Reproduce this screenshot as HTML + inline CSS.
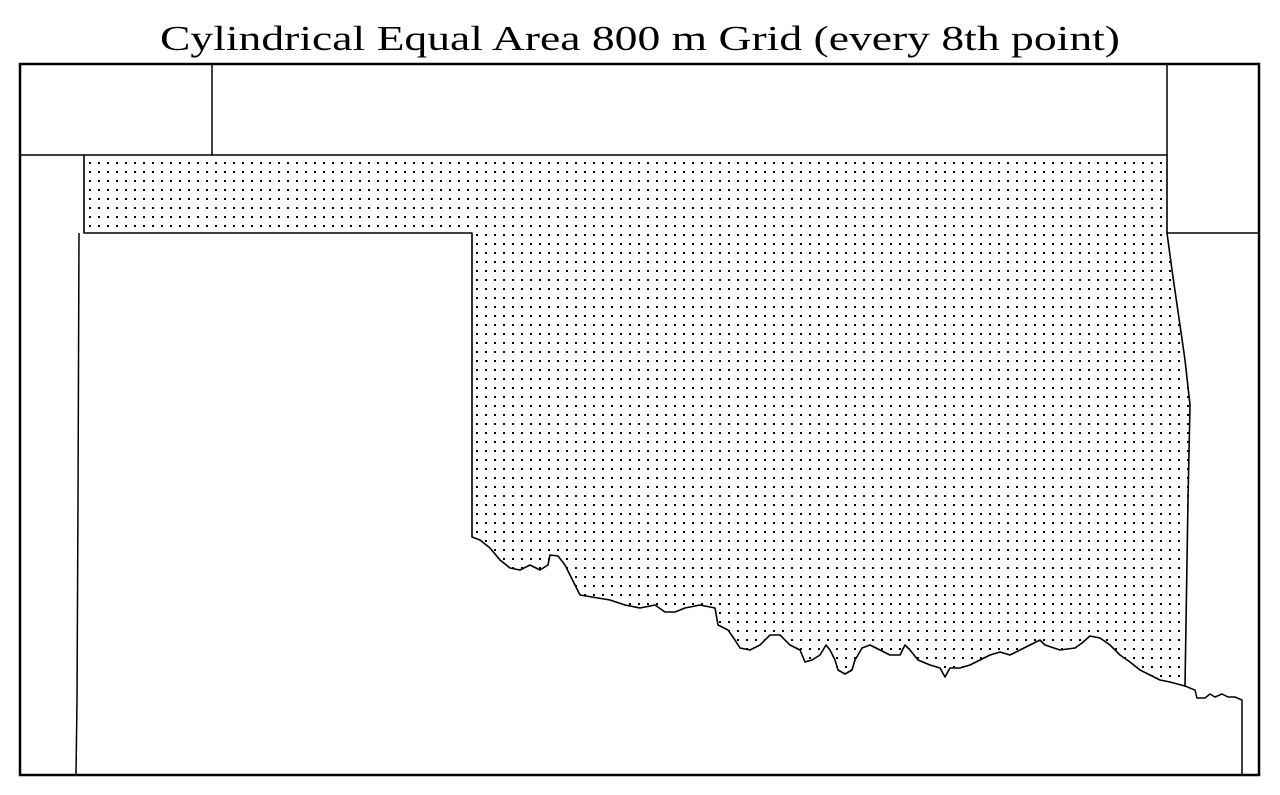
<!DOCTYPE html>
<html><head><meta charset="utf-8"><style>
html,body{margin:0;padding:0;background:#fff;}
svg{display:block;}
</style></head><body>
<svg width="1280" height="795" viewBox="0 0 1280 795">
<defs>
<pattern id="dots" x="89" y="162" width="9" height="9" patternUnits="userSpaceOnUse">
<rect x="0" y="0" width="2" height="2" fill="#000"/>
</pattern>
</defs>
<text x="160" y="50" textLength="960" lengthAdjust="spacingAndGlyphs" font-family="Liberation Serif, serif" font-size="35">Cylindrical Equal Area 800 m Grid (every 8th point)</text>
<rect x="20" y="64" width="1239" height="711" fill="none" stroke="#000" stroke-width="2.5"/>
<g fill="none" stroke="#000" stroke-width="1.5">
<polyline points="20,155 84,155"/>
<line x1="212" y1="64" x2="212" y2="155"/>
<line x1="1167" y1="64" x2="1167" y2="155"/>
<polyline points="1167,233 1259,233"/>
<polyline points="79,233 78,500 77,700 76,775"/>
<polyline points="1185,686 1195,690 1197,698 1205,698 1210,694 1215,697 1222,694 1228,697 1235,697 1242,700 1242,775"/>
</g>
<polygon fill="url(#dots)" stroke="#000" stroke-width="1.6" stroke-linejoin="round"
points="84,155 1167,155 1167,233 1172,270 1185,360 1190,405 1188,500 1185,686 1170,682 1160,680 1150,675 1140,670 1130,662 1120,655 1110,645 1100,638 1090,636 1082,643 1075,648 1060,650 1045,645 1040,640 1030,645 1020,650 1010,655 1000,652 990,655 980,660 970,665 960,668 950,668 945,677 940,668 930,665 918,660 910,650 905,645 900,655 890,655 880,650 870,645 862,648 858,655 855,660 852,670 845,674 838,670 835,660 830,650 826,645 820,655 812,660 805,662 800,650 790,645 780,635 770,635 760,645 750,650 740,648 735,640 728,630 718,625 715,608 700,605 685,608 675,612 665,612 655,605 640,608 625,605 610,600 598,598 580,595 575,585 570,575 565,565 558,556 550,555 548,565 540,570 530,565 520,570 510,568 500,560 490,548 480,540 472,537 472,233 84,233"/>
</svg>
</body></html>
